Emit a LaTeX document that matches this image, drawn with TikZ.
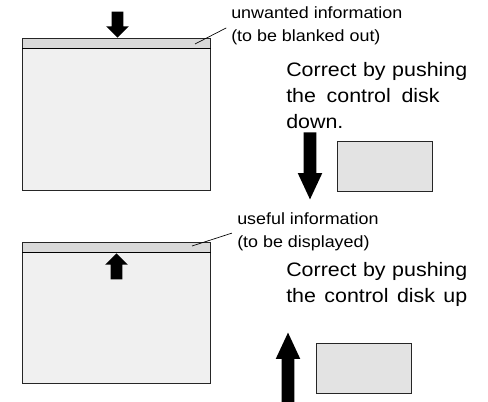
\documentclass[tikz,border=0pt]{standalone}
\usepackage{fontspec}
\setmainfont{Liberation Sans}[FakeStretch=1.1]
\usetikzlibrary{shapes.arrows}
\definecolor{scrFill}{gray}{0.94}
\definecolor{barFill}{gray}{0.85}
\definecolor{boxFill}{gray}{0.89}
\newcommand{\fullline}[2][135.75pt]{\makebox[#1][s]{#2}}

\begin{document}
\begin{tikzpicture}[x=0.75pt,y=-0.75pt,
  scr/.style={draw=black!85,fill=scrFill,line width=0.6pt,anchor=north west,inner sep=0pt,minimum width=141pt},
  bar/.style={draw=black!85,fill=barFill,line width=0.6pt,anchor=north west,inner sep=0pt,minimum width=141pt,minimum height=7.5pt},
  kbox/.style={draw=black!85,fill=boxFill,line width=0.6pt,anchor=north west,inner sep=0pt,minimum width=71.25pt,minimum height=37.5pt},
  shortarr/.style={single arrow,fill=black,draw=none,inner sep=4.15pt,anchor=tip,minimum height=19.5pt,minimum width=16.5pt,single arrow head extend=4.1pt,single arrow tip angle=90},
  longarr/.style={single arrow,fill=black,draw=none,inner sep=4.5pt,anchor=tip,minimum height=50.25pt,minimum width=18pt,single arrow head extend=4.5pt,single arrow tip angle=50},
  small/.style={font=\fontsize{12.2}{17}\selectfont,align=left,inner sep=0pt,anchor=base west},
  big/.style={font=\fontsize{14.6}{19.5}\selectfont,align=left,inner sep=0pt,anchor=base west},
  leader/.style={line width=0.5pt,shorten >=4pt}]
  \useasboundingbox (0,0) rectangle (488,401);

  % upper screen: unwanted line at the top
  \node[scr,minimum height=114pt] (scrA) at (22,38) {};
  \node[bar] (barA) at (scrA.north west) {};
  \draw[line width=1pt] (barA.south west) -- (barA.south east);
  \node[shortarr,shape border rotate=270] (arrA) at (117.5,38) {};
  \coordinate (pA) at (195,44);
  \node[small] (unw) at (231,41) {unwanted information\\(to be blanked out)};
  \draw[leader] (pA) -- (unw.west);
  \node[big] (hintA) at (286,128) {\fullline{Correct by pushing}\\\fullline[115pt]{the control disk}\\down.};
  \node[longarr,shape border rotate=270] (arrC) at (310,200) {};
  \node[kbox] (diskA) at (337,141) {};

  % lower screen: useful line hidden
  \node[scr,minimum height=105.75pt] (scrB) at (22,242) {};
  \node[bar] (barB) at (scrB.north west) {};
  \draw[line width=1pt] (barB.south west) -- (barB.south east);
  \node[shortarr,shape border rotate=90] (arrB) at (116.5,253) {};
  \coordinate (pB) at (192,246);
  \node[small] (use) at (237,247) {useful information\\(to be displayed)};
  \draw[leader] (pB) -- (use.west);
  \node[big] (hintB) at (286,302) {\fullline{Correct by pushing}\\\fullline{the control disk up}};
  \node[longarr,shape border rotate=90,minimum height=52pt] (arrD) at (288,332) {};
  \node[kbox] (diskB) at (316,343) {};
\end{tikzpicture}
\end{document}
